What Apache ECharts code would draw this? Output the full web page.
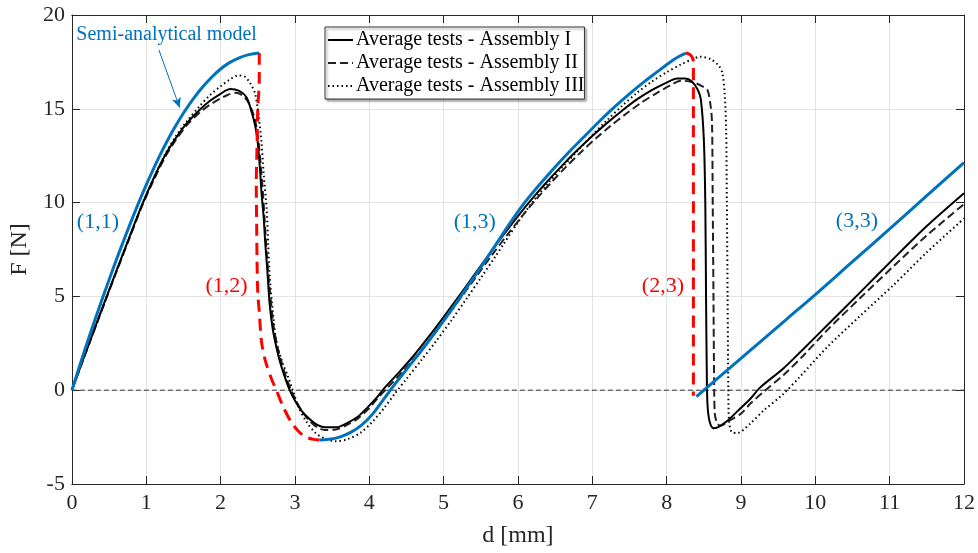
<!DOCTYPE html>
<html>
<head>
<meta charset="utf-8">
<script src="https://cdn.jsdelivr.net/npm/echarts@6/dist/echarts.min.js"></script>
<style>
html,body{margin:0;padding:0;background:#fff;}
#chart{width:978px;height:553px;}
</style>
</head>
<body>
<div id="chart"></div>
<script>
// ---- data ----
const xTicks = [0,1,2,3,4,5,6,7,8,9,10,11,12];
const yTicks = [-5,0,5,10,15,20];
const legendNames = ['Average tests - Assembly I','Average tests - Assembly II','Average tests - Assembly III'];

const blue11 = [[0,0],[0.11,1.37],[0.22,2.7],[0.33,3.98],[0.44,5.22],[0.55,6.43],[0.66,7.6],[0.77,8.73],[0.886,9.88],[1.0,10.95],[1.1,11.82],[1.2,12.65],[1.3,13.42],[1.4,14.12],[1.53,14.95],[1.65,15.62],[1.75,16.12],[1.88,16.68],[2.0,17.12],[2.12,17.46],[2.25,17.72],[2.38,17.89],[2.52,17.98]];
const red12 = [[2.52,17.98],[2.52,16.5],[2.5,15],[2.49,13],[2.48,11],[2.485,9],[2.49,7],[2.5,5.2],[2.52,4.2],[2.55,2.6],[2.6,1.6],[2.68,0.65],[2.75,0],[2.85,-0.95],[2.95,-1.7],[3.05,-2.2],[3.15,-2.5],[3.25,-2.62],[3.33,-2.65]];
const blue13 = [[3.33,-2.65],[3.45,-2.62],[3.6,-2.5],[3.75,-2.25],[3.9,-1.85],[4.05,-1.25],[4.2,-0.45],[4.35,0.35],[4.5,1.1],[4.7,2.1],[4.9,3.15],[5.1,4.25],[5.3,5.4],[5.5,6.55],[5.7,7.75],[5.9,8.95],[6.1,10.05],[6.3,11.0],[6.5,11.9],[6.7,12.75],[6.9,13.55],[7.1,14.35],[7.3,15.1],[7.5,15.8],[7.7,16.45],[7.9,17.05],[8.05,17.5],[8.17,17.8],[8.26,17.97]];
const red23 = [[8.26,17.97],[8.31,17.9],[8.35,17.7],[8.36,17.4],[8.36,-0.3]];
const blue33 = [[8.4,-0.34],[8.8,1.02],[9.2,2.38],[9.6,3.74],[10.0,5.1],[10.5,6.85],[11.0,8.6],[11.5,10.37],[12,12.13]];

const assemblyI = [[0,0],[0.11,1.2],[0.22,2.38],[0.33,3.55],[0.47,5.02],[0.6,6.38],[0.75,7.92],[0.94,9.85],[1.1,11.3],[1.25,12.5],[1.4,13.45],[1.55,14.25],[1.72,14.95],[1.85,15.4],[2.0,15.8],[2.13,16.05],[2.25,15.95],[2.35,15.6],[2.42,14.8],[2.47,14.0],[2.5,13.2],[2.53,11.8],[2.55,10.55],[2.58,9.2],[2.6,7.9],[2.63,6.3],[2.66,4.6],[2.7,3.3],[2.75,2.3],[2.8,1.5],[2.86,0.75],[2.93,0],[3.0,-0.55],[3.09,-1.1],[3.2,-1.55],[3.3,-1.85],[3.4,-1.97],[3.55,-1.98],[3.7,-1.75],[3.85,-1.4],[3.98,-0.9],[4.1,-0.4],[4.2,0.1],[4.4,0.95],[4.6,1.85],[4.8,2.85],[5.0,3.9],[5.2,4.98],[5.4,6.08],[5.6,7.18],[5.8,8.25],[6.0,9.28],[6.2,10.25],[6.4,11.15],[6.6,12.0],[6.8,12.8],[7.0,13.55],[7.2,14.25],[7.4,14.9],[7.6,15.5],[7.8,16.0],[8.0,16.4],[8.14,16.62],[8.25,16.62],[8.34,16.45],[8.42,16.0],[8.46,15.5],[8.5,13.4],[8.52,10],[8.53,5],[8.54,1],[8.55,-0.8],[8.58,-1.7],[8.63,-2.03],[8.7,-1.95],[8.81,-1.66],[8.95,-1.13],[9.13,-0.44],[9.26,0.15],[9.57,1.16],[9.84,2.2],[10.16,3.46],[10.6,5.2],[11.05,7.0],[11.5,8.75],[12,10.5]];
const assemblyII = [[0,0],[0.11,1.18],[0.22,2.35],[0.33,3.5],[0.47,4.97],[0.6,6.32],[0.75,7.85],[0.94,9.78],[1.1,11.2],[1.25,12.4],[1.4,13.35],[1.55,14.15],[1.72,14.8],[1.85,15.2],[2.0,15.55],[2.1,15.75],[2.2,15.85],[2.3,15.7],[2.38,15.3],[2.45,14.6],[2.5,13.6],[2.54,12.0],[2.57,10.5],[2.6,8.6],[2.63,6.8],[2.67,5.0],[2.71,3.5],[2.76,2.4],[2.82,1.5],[2.88,0.7],[2.95,0],[3.02,-0.6],[3.1,-1.15],[3.2,-1.65],[3.3,-1.98],[3.4,-2.12],[3.55,-2.1],[3.7,-1.85],[3.85,-1.5],[4.0,-0.95],[4.12,-0.4],[4.25,0.15],[4.45,1.0],[4.65,1.9],[4.85,2.9],[5.05,3.95],[5.25,5.03],[5.45,6.12],[5.65,7.2],[5.85,8.25],[6.05,9.25],[6.25,10.2],[6.45,11.08],[6.65,11.92],[6.85,12.7],[7.05,13.43],[7.25,14.1],[7.45,14.72],[7.65,15.3],[7.85,15.8],[8.05,16.25],[8.19,16.5],[8.35,16.42],[8.48,16.2],[8.55,16.0],[8.59,15.2],[8.61,14.3],[8.62,10],[8.63,5],[8.64,0],[8.65,-1.32],[8.68,-1.75],[8.72,-1.9],[8.85,-1.6],[9.0,-1.25],[9.13,-0.7],[9.3,-0.1],[9.57,0.8],[9.84,1.85],[10.16,3.2],[10.6,4.9],[11.05,6.6],[11.5,8.25],[12,9.92]];
const assemblyIII = [[0,0],[0.11,1.19],[0.22,2.36],[0.33,3.52],[0.47,5.0],[0.6,6.36],[0.75,7.9],[0.94,9.84],[1.1,11.3],[1.25,12.55],[1.4,13.55],[1.55,14.35],[1.72,15.15],[1.85,15.7],[2.0,16.2],[2.12,16.55],[2.24,16.78],[2.33,16.7],[2.4,16.35],[2.46,15.86],[2.5,15.0],[2.55,13.2],[2.58,11.5],[2.62,9.65],[2.64,7.8],[2.66,6.1],[2.7,4.3],[2.75,2.6],[2.83,1.5],[2.91,0.7],[2.97,0],[3.05,-0.9],[3.15,-1.65],[3.27,-2.25],[3.4,-2.58],[3.55,-2.72],[3.7,-2.62],[3.89,-2.25],[4.05,-1.65],[4.2,-0.95],[4.34,-0.2],[4.5,0.6],[4.7,1.6],[4.9,2.62],[5.1,3.7],[5.3,4.83],[5.5,5.98],[5.7,7.15],[5.8,7.75],[6.0,8.95],[6.2,10.05],[6.4,11.0],[6.6,11.9],[6.8,12.75],[7.0,13.6],[7.2,14.4],[7.4,15.15],[7.6,15.85],[7.8,16.45],[8.0,16.95],[8.2,17.38],[8.37,17.68],[8.45,17.78],[8.59,17.65],[8.7,17.3],[8.75,16.9],[8.78,15.8],[8.8,14],[8.81,10],[8.82,5],[8.83,0],[8.84,-1.66],[8.88,-2.25],[8.95,-2.28],[9.13,-1.76],[9.3,-1.1],[9.57,-0.2],[9.8,0.75],[10.16,2.3],[10.6,3.95],[11.05,5.6],[11.5,7.35],[12,9.15]];

const zeroLine = [[0,0],[12,0]];

const labels = [
  {text:'(1,1)', x:0.35, y:8.96, color:'#0072BD'},
  {text:'(1,2)', x:2.08, y:5.56, color:'#FF0000'},
  {text:'(1,3)', x:5.42, y:8.96, color:'#0072BD'},
  {text:'(2,3)', x:7.95, y:5.56, color:'#FF0000'},
  {text:'(3,3)', x:10.56, y:9.0, color:'#0072BD'}
];
const modelLabel = {text:'Semi-analytical model', x:0.06, y:18.94};
const arrowFrom = [1.17, 18.14];
const arrowTo = [1.45, 15.06];

// ---- chart ----
const FONT = '"Liberation Serif", "Times New Roman", serif';
const BLUE = '#0072BD';
const RED = '#FF0000';
const AXC = '#262626';
const chart = echarts.init(document.getElementById('chart'));

function xAx(pos, show){
  return {
    type:'value', position:pos, min:xTicks[0], max:xTicks[xTicks.length-1], interval:1,
    axisLine:{show:true, onZero:false, lineStyle:{color:AXC, width:1}},
    axisTick:{show:true, inside:true, length:8, lineStyle:{color:AXC}},
    axisLabel:{show:show, color:AXC, fontFamily:FONT, fontSize:22, margin:8},
    splitLine:{show:show, lineStyle:{color:'#e3e3e3', width:1}},
    name: show ? 'd [mm]' : '', nameLocation:'middle', nameGap:40,
    nameTextStyle:{color:AXC, fontFamily:FONT, fontSize:24}
  };
}
function yAx(pos, show){
  return {
    type:'value', position:pos, min:yTicks[0], max:yTicks[yTicks.length-1], interval:5,
    axisLine:{show:true, onZero:false, lineStyle:{color:AXC, width:1}},
    axisTick:{show:true, inside:true, length:8, lineStyle:{color:AXC}},
    axisLabel:{show:show, color:AXC, fontFamily:FONT, fontSize:22, margin:7},
    splitLine:{show:show, lineStyle:{color:'#e3e3e3', width:1}},
    name: show ? 'F [N]' : '', nameLocation:'middle', nameGap:27,
    nameTextStyle:{color:AXC, fontFamily:FONT, fontSize:24}
  };
}
function ln(name, data, color, width, type, z, sm){
  return {
    name:name, type:'line', data:data, xAxisIndex:0, yAxisIndex:0,
    showSymbol:false, symbol:'none', smooth:sm, z:z,
    lineStyle:{color:color, width:width, type:type, cap:'butt'},
    itemStyle:{color:color}, emphasis:{disabled:true}, silent:true
  };
}

const option = {
  animation:false,
  backgroundColor:'#fff',
  grid:{left:70, right:14, top:15, bottom:67, containLabel:false},
  xAxis:[xAx('bottom', true), xAx('top', false)],
  yAxis:[yAx('left', true), yAx('right', false)],
  legend:{
    data:legendNames, orient:'vertical', left:325, top:27,
    itemWidth:25, itemHeight:20, itemGap:3, padding:[3,0,3,2],
    itemStyle:{opacity:0},
    backgroundColor:'#fff', borderColor:'#333', borderWidth:1,
    shadowColor:'rgba(0,0,0,0.35)', shadowBlur:2, shadowOffsetX:2, shadowOffsetY:2,
    textStyle:{color:'#000', fontFamily:FONT, fontSize:20, padding:[0,0,0,-2]},
    selectedMode:false
  },
  series:[
    ln('zero', zeroLine, '#333', 1, [5,3], 1, false),
    ln(legendNames[2], assemblyIII, '#000', 2, [1.5,3], 3, 0.3),
    ln(legendNames[1], assemblyII, '#222', 2, [8,4], 3, 0.3),
    ln(legendNames[0], assemblyI, '#000', 2, 'solid', 4, 0.3),
    ln('Semi-analytical model', blue11, BLUE, 3, 'solid', 5, 0.4),
    ln('Semi-analytical model (1,3)', blue13, BLUE, 3, 'solid', 5, 0.4),
    ln('Semi-analytical model (3,3)', blue33, BLUE, 3, 'solid', 5, 0.4),
    ln('Transition (1,2)', red12, RED, 3, [12,7], 6, 0.3),
    ln('Transition (2,3)', red23, RED, 3, [12,7], 6, 0.3),
    {
      name:'arrow', type:'line', data:[], xAxisIndex:0, yAxisIndex:0, silent:true,
      markLine:{
        silent:true, symbol:['none','arrow'], symbolSize:[7,10],
        label:{show:false},
        lineStyle:{color:BLUE, width:1, type:'solid'},
        data:[[{coord:arrowFrom},{coord:arrowTo}]]
      }
    }
  ]
};
chart.setOption(option);

const gfx = labels.map(l => {
  const p = chart.convertToPixel({xAxisIndex:0, yAxisIndex:0}, [l.x, l.y]);
  return {type:'text', x:p[0], y:p[1], z:20,
    style:{text:l.text, fill:l.color, font:'22px ' + FONT, textAlign:'center', textVerticalAlign:'middle'}};
});
const mp = chart.convertToPixel({xAxisIndex:0, yAxisIndex:0}, [modelLabel.x, modelLabel.y]);
gfx.push({type:'text', x:mp[0], y:mp[1], z:20,
  style:{text:modelLabel.text, fill:BLUE, font:'20px ' + FONT, textAlign:'left', textVerticalAlign:'middle'}});
chart.setOption({graphic:gfx});
</script>
</body>
</html>
